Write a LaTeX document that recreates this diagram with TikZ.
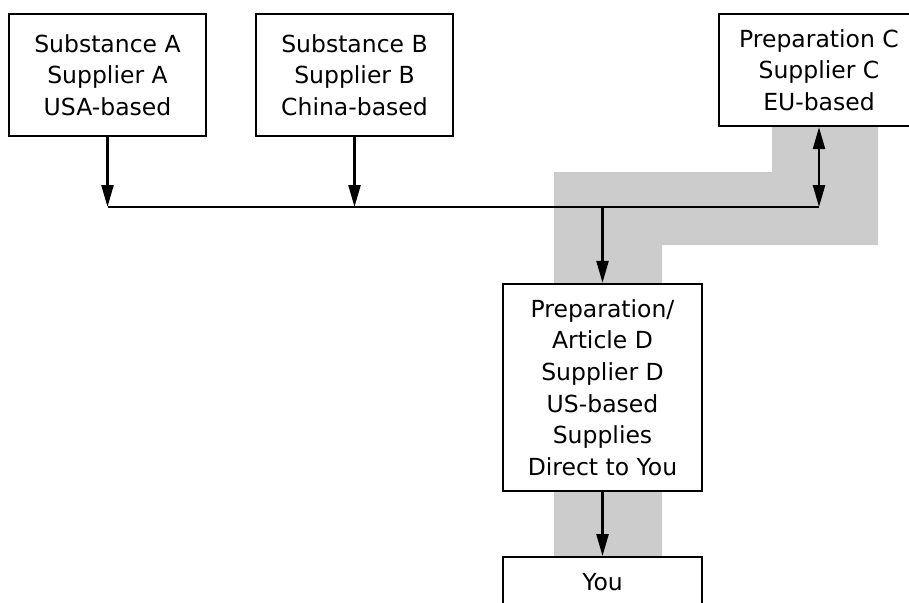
\documentclass[tikz,border=0pt]{standalone}
\usepackage{fontspec}
\setmainfont{DejaVu Sans}
\usetikzlibrary{arrows.meta}
\definecolor{bandgray}{RGB}{204,204,204}
\tikzset{
  box/.style={draw=black, fill=white, line width=2.4pt, align=center, inner sep=0pt,
    font={\fontsize{23.5}{31.6}\selectfont}},
  flow/.style={line width=2.4pt, -{Triangle[length=22pt,width=12pt]}},
  twoway/.style={line width=2.4pt, {Triangle[length=22pt,width=12pt]}-{Triangle[length=22pt,width=12pt]}},
  busline/.style={line width=2.4pt}
}
\begin{document}
\begin{tikzpicture}[x=1pt,y=-1pt]
\useasboundingbox (0,0) rectangle (909,602);
% grey band
\fill[bandgray] (554,172) -- (772,172) -- (772,126) -- (878,126) -- (878,245) -- (662,245) -- (662,556) -- (554,556) -- cycle;
% boxes
\node[box, minimum width=197pt, minimum height=122pt] (A) at (107.5,75) {Substance A\\Supplier A\\USA-based};
\node[box, minimum width=197pt, minimum height=122pt] (B) at (354.5,75) {Substance B\\Supplier B\\China-based};
\node[box, minimum width=200pt, minimum height=112pt] (C) at (819,70) {Preparation C\\Supplier C\\EU-based};
\node[box, minimum width=199pt, minimum height=207pt] (D) at (602.5,387.5) {Preparation/\\Article D\\Supplier D\\US-based\\Supplies\\Direct to You};
\node[box, minimum width=199pt, anchor=north, inner ysep=16pt, text height=17pt, text depth=50pt] (Y) at (602.5,556) {You};
% bus
\coordinate (bus) at (0,207);
\coordinate (ja) at (A.south |- bus);
\coordinate (jb) at (B.south |- bus);
\coordinate (jc) at (C.south |- bus);
\coordinate (jd) at (D.north |- bus);
\draw[busline] (ja) -- (jc);
\draw[flow] (A.south) -- (ja);
\draw[flow] (B.south) -- (jb);
\draw[twoway] (C.south) -- (jc);
\draw[flow] (jd) -- (D.north);
\draw[flow] (D.south) -- (Y.north);
\end{tikzpicture}
\end{document}
